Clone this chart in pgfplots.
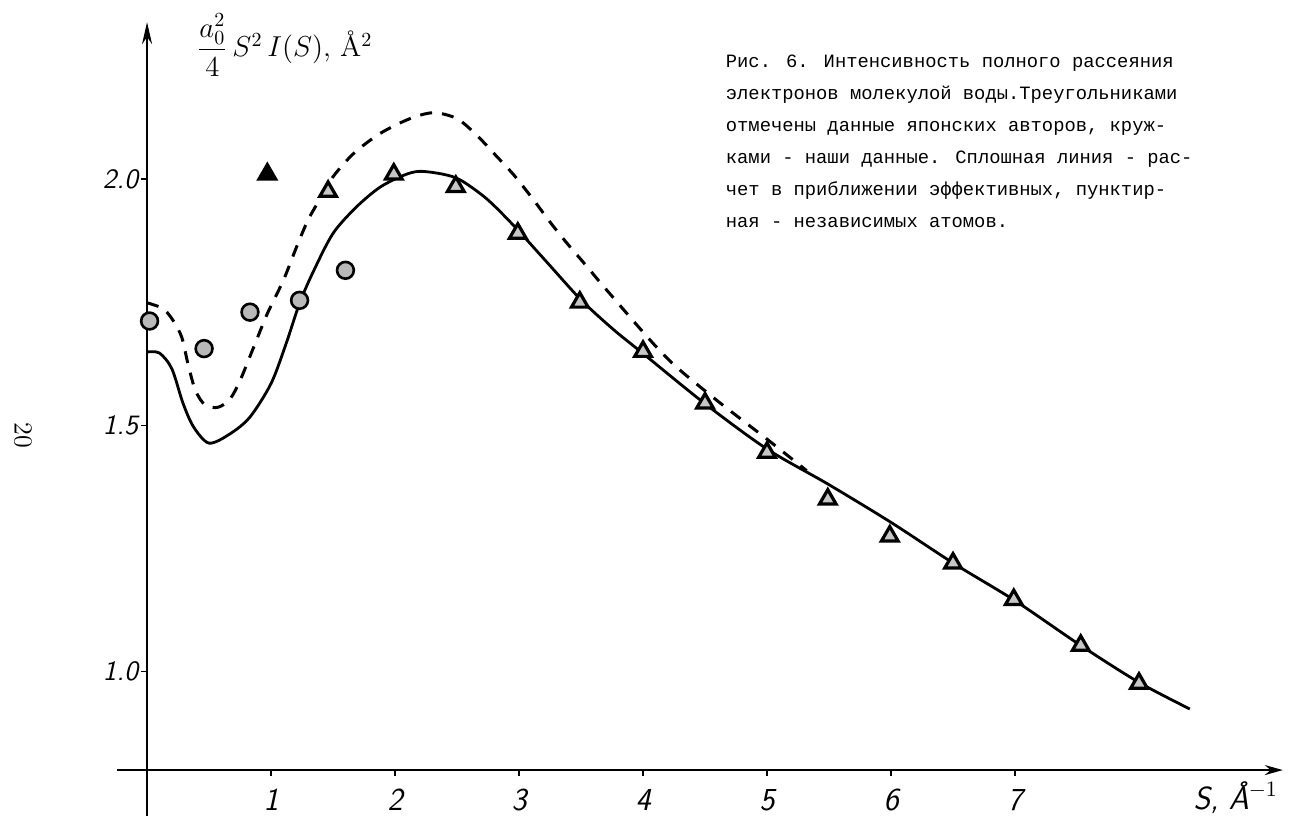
\documentclass[border=0pt]{standalone}
\usepackage{amsmath}
\usepackage{fontspec}
\newfontfamily\typewriter{Liberation Mono}
\usepackage{pgfplots}
\pgfplotsset{compat=1.18}
\usetikzlibrary{arrows.meta}

% solid curve: effective atoms
\pgfplotstableread{
s     I
0.00  1.649
0.10  1.647
0.20  1.615
0.29  1.545
0.375 1.497
0.50  1.464
0.67  1.483
0.83  1.517
1.00  1.585
1.12  1.665
1.23  1.748
1.34  1.812
1.50  1.890
1.69  1.944
1.88  1.984
2.07  2.008
2.20  2.016
2.39  2.010
2.53  1.998
2.74  1.960
2.96  1.905
3.23  1.830
3.50  1.755
3.76  1.695
4.00  1.646
4.50  1.544
5.00  1.452
5.49  1.381
6.00  1.303
6.51  1.219
7.00  1.144
7.53  1.053
8.00  0.978
8.41  0.924
}\effective

% dashed curve: independent atoms
\pgfplotstableread{
s     I
0.00  1.749
0.13  1.737
0.21  1.713
0.28  1.679
0.33  1.625
0.39  1.571
0.47  1.541
0.575 1.537
0.67  1.554
0.75  1.591
0.86  1.659
0.97  1.727
1.10  1.795
1.21  1.865
1.30  1.918
1.40  1.962
1.50  2.005
1.665 2.052
1.88  2.093
2.12  2.123
2.31  2.135
2.50  2.123
2.66  2.089
2.81  2.049
2.96  2.008
3.12  1.957
3.25  1.913
3.39  1.869
3.55  1.822
3.71  1.774
4.18  1.640
4.57  1.556
5.00  1.472
5.32  1.408
}\independent

% triangles: japanese authors
\pgfplotstableread{
s     I
1.46  1.975
1.99  2.010
2.49  1.985
2.99  1.890
3.49  1.750
4.00  1.650
4.50  1.545
5.00  1.445
5.49  1.350
5.99  1.275
6.50  1.220
6.99  1.146
7.53  1.053
8.00  0.976
}\japan

% circles: our data
\pgfplotstableread{
s     I
0.02  1.712
0.46  1.656
0.83  1.730
1.23  1.754
1.60  1.815
}\ours

\begin{document}
\begin{tikzpicture}
\begin{axis}[
  x=61.95pt, y=246pt,
  xmin=0, xmax=9.16, ymin=0.8, ymax=2.319,
  axis x line=bottom, axis y line=left,
  x axis line style={line width=1pt, -{Stealth[length=9pt,width=5pt]}},
  y axis line style={line width=1pt, -{Stealth[length=11pt,width=5pt]}},
  xtick={1,2,3,4,5,6,7},
  xticklabels={1,2,3,4,5,6,7},
  ytick={1.0,1.5,2.0},
  yticklabels={1.0,1.5,2.0},
  tick align=outside, major tick length=3pt,
  tick style={black, line width=0.8pt},
  xticklabel style={font=\sffamily\itshape\fontsize{16}{16}\selectfont, yshift=-3pt},
  yticklabel style={font=\sffamily\itshape\fontsize{14}{14}\selectfont, xshift=2pt},
  clip=false,
]
  % invisible frame to fix the picture size
  \path (axis cs:-1.186,0.7073) rectangle (axis cs:9.258,2.364);
  % axis stubs
  \draw[line width=1pt] (axis cs:-0.24,0.8) -- (axis cs:0,0.8);
  \draw[line width=1pt] (axis cs:0,0.8) -- (axis cs:0,0.7073);

  \addplot[black, line width=1.4pt, smooth, tension=0.5] table[x=s, y=I] {\effective};
  \addplot[black, line width=1.5pt, smooth, tension=0.5, dash pattern=on 6pt off 5pt] table[x=s, y=I] {\independent};
  \addplot[only marks, mark=triangle*, mark size=4.8pt,
    mark options={fill=gray!45, draw=black, line width=1.6pt}] table[x=s, y=I] {\japan};
  \addplot[only marks, mark=triangle*, mark size=4.8pt,
    mark options={fill=black, draw=black, line width=1.6pt}] coordinates {(0.97,2.010)};
  \addplot[only marks, mark=*, mark size=4.2pt,
    mark options={fill=gray!55, draw=black, line width=1.3pt}] table[x=s, y=I] {\ours};

  \node[anchor=west, font=\Large, inner sep=0pt] at (axis cs:0.40,2.272)
    {$\dfrac{a_0^2}{4}\,S^2\,I(S)$, Å$^2$};
  \node[font=\sffamily\itshape\fontsize{16}{16}\selectfont] at (axis cs:8.78,0.745) {S, Å$^{-1}$};
  \node[rotate=-90, font=\fontsize{13}{13}\selectfont] at (axis cs:-1.0,1.48) {20};

  \node[anchor=north west, align=left, inner sep=0pt,
        font=\typewriter\fontsize{9.4}{16}\selectfont] at (axis cs:4.665,2.254)
    {Рис. 6. Интенсивность полного рассеяния\\
     электронов молекулой воды.Треугольниками\\
     отмечены данные японских авторов, круж-\\
     ками - наши данные. Сплошная линия - рас-\\
     чет в приближении эффективных, пунктир-\\
     ная - независимых атомов.};
\end{axis}
\end{tikzpicture}
\end{document}
